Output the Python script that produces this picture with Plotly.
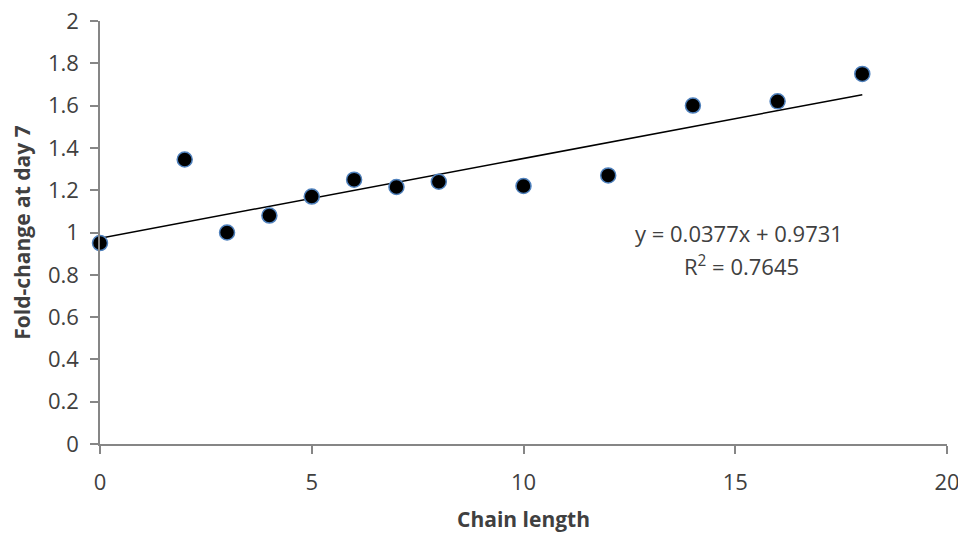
import plotly.graph_objects as go

chain_length = [0, 2, 3, 4, 5, 6, 7, 8, 10, 12, 14, 16, 18]
fold_change = [0.95, 1.345, 1.0, 1.08, 1.17, 1.25, 1.215, 1.24, 1.22, 1.27, 1.60, 1.62, 1.75]

y_tick_vals = [0, 0.2, 0.4, 0.6, 0.8, 1.0, 1.2, 1.4, 1.6, 1.8, 2.0]
y_tick_text = ["0", "0.2", "0.4", "0.6", "0.8", "1", "1.2", "1.4", "1.6", "1.8", "2"]
x_tick_vals = [0, 5, 10, 15, 20]
x_tick_text = ["0", "5", "10", "15", "20"]

trend_slope = 0.0377
trend_intercept = 0.9731
trend_x = [0, 18]
trend_y = [trend_slope * v + trend_intercept for v in trend_x]

eq_text = "y = 0.0377x + 0.9731"
r2_text = "R<sup>2</sup> = 0.7645"

font_family = "Open Sans, Lato, sans-serif"
txt_color = "#404040"
axis_color = "#868686"

fig = go.Figure()
fig.add_trace(go.Scatter(
    x=trend_x, y=trend_y, mode="lines",
    line=dict(color="#000000", width=1.5),
    showlegend=False, hoverinfo="skip",
))
fig.add_trace(go.Scatter(
    x=chain_length, y=fold_change, mode="markers",
    marker=dict(color="#000000", size=15, line=dict(color="#4f81bd", width=1.5)),
    showlegend=False, cliponaxis=False,
))

fig.add_annotation(x=15.1, y=0.998, xref="x", yref="y", text=eq_text,
                   showarrow=False, align="center",
                   font=dict(family=font_family, size=22, color=txt_color))
fig.add_annotation(x=15.15, y=0.846, xref="x", yref="y", text=r2_text,
                   showarrow=False, align="center",
                   font=dict(family=font_family, size=22, color=txt_color))

fig.update_layout(
    width=958, height=525,
    margin=dict(l=92, r=19, t=13, b=89),
    paper_bgcolor="white", plot_bgcolor="white",
    font=dict(family=font_family, size=22, color=txt_color),
    xaxis=dict(
        range=[0, 20], tickmode="array", tickvals=x_tick_vals, ticktext=x_tick_text,
        showgrid=False, zeroline=False, automargin=False, ticklabeloverflow="allow",
        showline=True, linecolor=axis_color, linewidth=1.5,
        ticks="outside", ticklen=8, tickcolor=axis_color, tickwidth=1.5,
        ticklabelstandoff=10,
        tickfont=dict(size=22, color=txt_color),
        title=dict(text="<b>Chain length</b>", font=dict(size=21, color=txt_color), standoff=17),
    ),
    yaxis=dict(
        range=[0, 2], tickmode="array", tickvals=y_tick_vals, ticktext=y_tick_text,
        showgrid=False, zeroline=False, automargin=False, ticklabeloverflow="allow",
        showline=True, linecolor=axis_color, linewidth=1.5,
        ticks="outside", ticklen=8, tickcolor=axis_color, tickwidth=1.5,
        ticklabelstandoff=7,
        tickfont=dict(size=22, color=txt_color),
        title=dict(text="<b>Fold-change at day 7</b>", font=dict(size=21, color=txt_color), standoff=12),
    ),
)

fig.write_html("out.html")
